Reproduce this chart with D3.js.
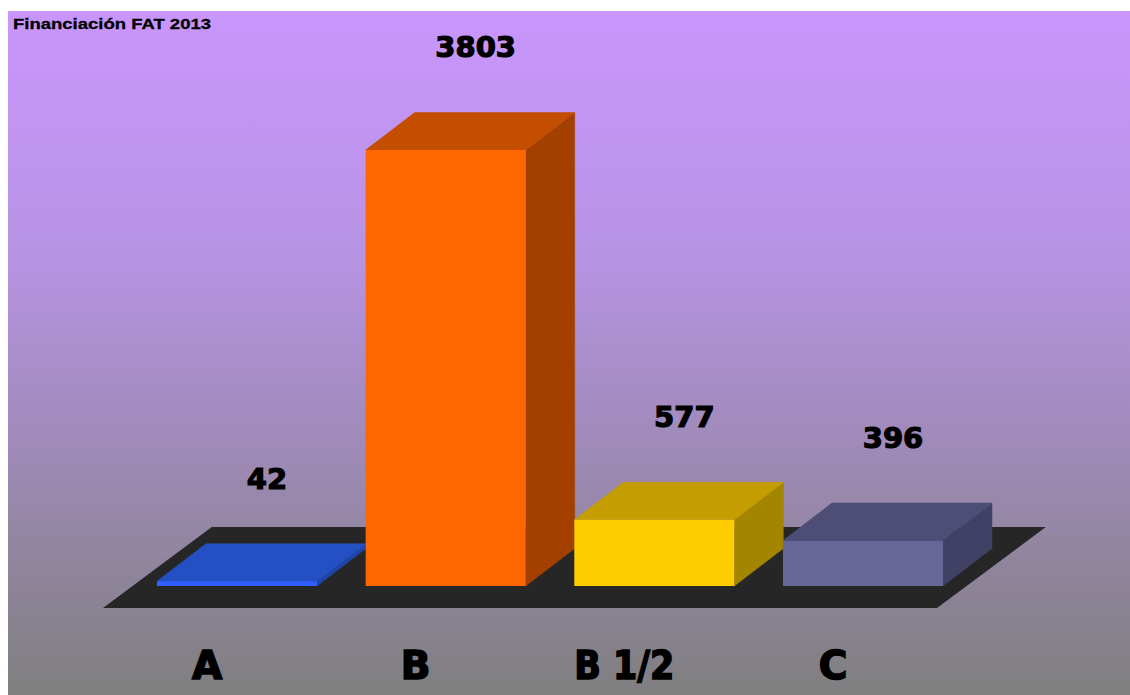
<!DOCTYPE html>
<html><head><meta charset="utf-8">
<script src="https://cdn.jsdelivr.net/npm/d3@7/dist/d3.min.js"></script>
<style>html,body{margin:0;padding:0;background:#fff;}svg{display:block;}</style>
</head><body>
<script>
const title = "Financiación FAT 2013";
const categories = ["A", "B", "B 1/2", "C"];
const values = [42, 3803, 577, 396];
const frontColors = ["#2f5fff", "#ff6600", "#ffcc00", "#666699"];
const topColors   = ["#2450c4", "#c44e00", "#c49d00", "#4d4d75"];
const sideColors  = ["#1f45a8", "#a34000", "#a38500", "#414166"];

const W = 1130, H = 695;
const svg = d3.select("body").append("svg").attr("width", W).attr("height", H);

// background gradient
const defs = svg.append("defs");
const g = defs.append("linearGradient").attr("id", "bg").attr("x1", 0).attr("y1", 0).attr("x2", 0).attr("y2", 1);
g.append("stop").attr("offset", "0%").attr("stop-color", "#c996fd");
g.append("stop").attr("offset", "35%").attr("stop-color", "#b893e4");
g.append("stop").attr("offset", "100%").attr("stop-color", "#7f7f7f");
svg.append("rect").attr("x", 8).attr("y", 11).attr("width", W - 8).attr("height", H - 11).attr("fill", "url(#bg)");

// scales
const base = 586;
const x = d3.scaleBand().domain(categories).range([157, 943]).paddingInner(0.233).paddingOuter(0);
const y = d3.scaleLinear().domain([0, 3803]).range([base, 150]);
const ddx = 49, ddy = -37.5;           // bar depth offset
const fdx = ddx * 2.22, fdy = ddy * 2.16; // floor depth offset

// floor
const fl = 103, fr = 937, ff = base + 22;
svg.append("polygon")
  .attr("points", [[fl, ff], [fr, ff], [fr + fdx, ff + fdy], [fl + fdx, ff + fdy]].map(p => p.join(",")).join(" "))
  .attr("fill", "#262626");

// bars
const bw = x.bandwidth();
const bars = svg.append("g").selectAll("g").data(categories).join("g");
bars.each(function(c, i) {
  const gg = d3.select(this);
  const x0 = x(c), x1 = x0 + bw, yt = y(values[i]);
  const pts = a => a.map(p => p.join(",")).join(" ");
  gg.append("polygon").attr("points", pts([[x1, base], [x1 + ddx, base + ddy], [x1 + ddx, yt + ddy], [x1, yt]]))
    .attr("fill", sideColors[i]).attr("stroke", sideColors[i]).attr("stroke-width", 0.5);
  gg.append("polygon").attr("points", pts([[x0, yt], [x1, yt], [x1 + ddx, yt + ddy], [x0 + ddx, yt + ddy]]))
    .attr("fill", topColors[i]).attr("stroke", topColors[i]).attr("stroke-width", 0.5);
  gg.append("rect").attr("x", x0).attr("y", yt).attr("width", bw).attr("height", base - yt)
    .attr("fill", frontColors[i]);
});

// value labels
svg.append("g").selectAll("text").data(categories).join("text")
  .attr("x", c => x(c) + bw / 2 + 30)
  .attr("y", (c, i) => y(values[i]) - 103)
  .attr("dy", "0.36em")
  .attr("text-anchor", "middle")
  .attr("font-family", "DejaVu Sans")
  .attr("font-weight", "bold")
  .attr("font-size", 29)
  .attr("fill", "#000").attr("stroke", "#000").attr("stroke-width", 1.2)
  .text((c, i) => values[i]);

// category labels
svg.append("g").selectAll("text").data(categories).join("text")
  .attr("x", c => x(c) + bw / 2 - 30)
  .attr("y", 679)
  .attr("text-anchor", "middle")
  .attr("font-family", "DejaVu Sans")
  .attr("font-weight", "bold")
  .attr("font-size", 39)
  .attr("fill", "#000").attr("stroke", "#000").attr("stroke-width", 1.6)
  .each(function(c) { if (c.length > 1) d3.select(this).attr("textLength", 100).attr("lengthAdjust", "spacingAndGlyphs"); })
  .text(c => c);

// title
svg.append("text").attr("x", 13).attr("y", 29)
  .attr("font-family", "Liberation Sans, Arial, sans-serif")
  .attr("font-weight", "bold").attr("font-size", 15)
  .attr("textLength", 198).attr("lengthAdjust", "spacingAndGlyphs")
  .attr("fill", "#000").attr("stroke", "#000").attr("stroke-width", 0.3).text(title);
</script>
</body></html>
